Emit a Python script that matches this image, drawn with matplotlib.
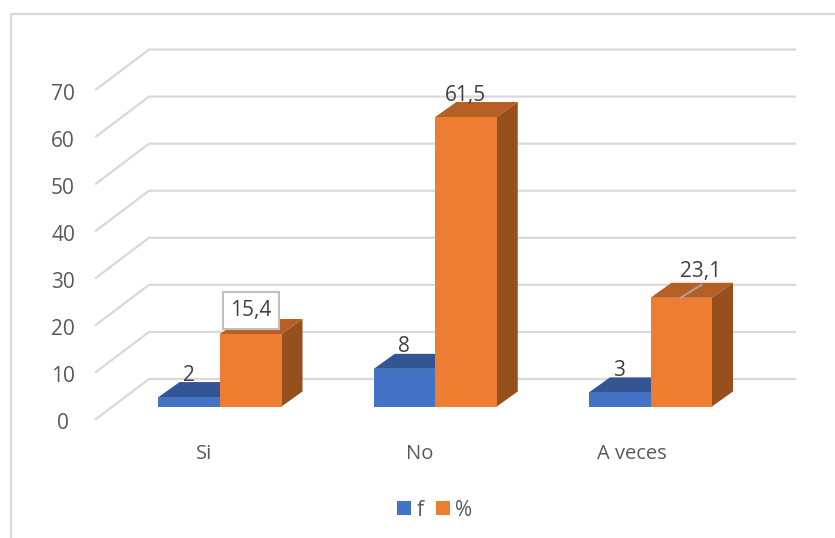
import matplotlib
matplotlib.use("Agg")
import matplotlib.pyplot as plt
from matplotlib.patches import Polygon, Rectangle

categories = ["Si", "No", "A veces"]
f_values = [2, 8, 3]
pct_values = [15.4, 61.5, 23.1]
pct_labels = ["15,4", "61,5", "23,1"]
y_ticks = [0, 10, 20, 30, 40, 50, 60, 70]

BLUE = "#4472C4"
BLUE_TOP = "#335593"
ORANGE = "#ED7D31"
ORANGE_TOP = "#B65F24"
ORANGE_SIDE = "#97501B"
GRID = "#D9D9D9"
TEXT = "#595959"
LABEL = "#404040"

plt.rcParams["font.family"] = "Open Sans"

fig = plt.figure(figsize=(8.35, 5.38), dpi=100)
ax = fig.add_axes([0, 0, 1, 1])

# one x unit is one category, y is in chart units on the front plane of the bars
px_x = 215.25
px_y = 4.707
ax.set_xlim(-220 / px_x, (835 - 220) / px_x)
ax.set_ylim(-(538 - 406.5) / px_y, 406.5 / px_y)
ax.axis("off")

bar_w = 61.5 / px_x
depth_x = 21 / px_x
depth_y = 15 / px_y
cat_shift = [-16, -16, -19]


def box(x0, x1, top, front, roof, side=None):
    ax.add_patch(Polygon([(x0, top), (x0 + depth_x, top + depth_y), (x1 + depth_x, top + depth_y), (x1, top)],
                         color=roof, lw=0, zorder=3))
    if side:
        ax.add_patch(Polygon([(x1, 0), (x1 + depth_x, depth_y), (x1 + depth_x, top + depth_y), (x1, top)],
                             color=side, lw=0, zorder=3))
    ax.add_patch(Rectangle((x0, 0), x1 - x0, top, color=front, lw=0, zorder=4))


# gridlines: back wall plus the slanted run on the side wall
wall_x0 = (96 - 220) / px_x
wall_x1 = (149 - 220) / px_x
wall_x2 = (795 - 220) / px_x
back_shift = 27.5 / px_y
front_shift = -12.5 / px_y
for v in y_ticks:
    ax.plot([wall_x0, wall_x1, wall_x2],
            [v + front_shift, v + back_shift, v + back_shift],
            color=GRID, lw=1.6, zorder=1, solid_joinstyle="miter")
    ax.text(wall_x0 - 33 / px_x, v + front_shift - 4.5 / px_y, str(v), color=TEXT, fontsize=15,
            ha="center", va="center")

# outer chart frame, open at the bottom and on the right
frame_x0 = (11 - 220) / px_x
frame_x1 = (835 - 220) / px_x
frame_top = (406.5 - 14) / px_y
frame_bottom = -(538 - 406.5) / px_y
ax.plot([frame_x0, frame_x0, frame_x1], [frame_bottom, frame_top, frame_top],
        color=GRID, lw=1.6, zorder=1, solid_joinstyle="miter")

for i, cat in enumerate(categories):
    box(i - bar_w, i, f_values[i], BLUE, BLUE_TOP)
    box(i, i + bar_w, pct_values[i], ORANGE, ORANGE_TOP, ORANGE_SIDE)
    ax.text(i + cat_shift[i] / px_x, -47.5 / px_y, cat, color=TEXT, fontsize=14.5, ha="center", va="center")
    ax.text(i - 31 / px_x, f_values[i] + 22 / px_y, str(f_values[i]), color=LABEL, fontsize=15,
            ha="center", va="center", zorder=6)

# percentage labels, the first one boxed and the last one with a leader
ax.text(0 + 31 / px_x, pct_values[0] + 23.5 / px_y, pct_labels[0], color=LABEL, fontsize=15, ha="center", va="center",
        zorder=6, bbox=dict(boxstyle="square,pad=0.37", fc="white", ec="#BFBFBF", lw=1.5))
ax.text(1 + 30 / px_x, pct_values[1] + 22 / px_y, pct_labels[1], color=LABEL, fontsize=15, ha="center", va="center", zorder=6)
ax.text(2 + 50 / px_x, pct_values[2] + 26 / px_y, pct_labels[2], color=LABEL, fontsize=15, ha="center", va="center", zorder=6)
ax.plot([2 + 30 / px_x, 2 + 51 / px_x], [pct_values[2], pct_values[2] + 13 / px_y], color="#A6A6A6", lw=1.4, zorder=6)

# legend
ax.add_patch(Rectangle(((397 - 220) / px_x, (406.5 - 515) / px_y), 14 / px_x, 14 / px_y, color=BLUE, lw=0))
ax.add_patch(Rectangle(((436 - 220) / px_x, (406.5 - 515) / px_y), 14 / px_x, 14 / px_y, color=ORANGE, lw=0))
ax.text((420 - 220) / px_x, (406.5 - 510.5) / px_y, "f", color=TEXT, fontsize=15, ha="center", va="center")
ax.text((464 - 220) / px_x, (406.5 - 510.5) / px_y, "%", color=TEXT, fontsize=15, ha="center", va="center")

fig.savefig("out.png", dpi=100)
